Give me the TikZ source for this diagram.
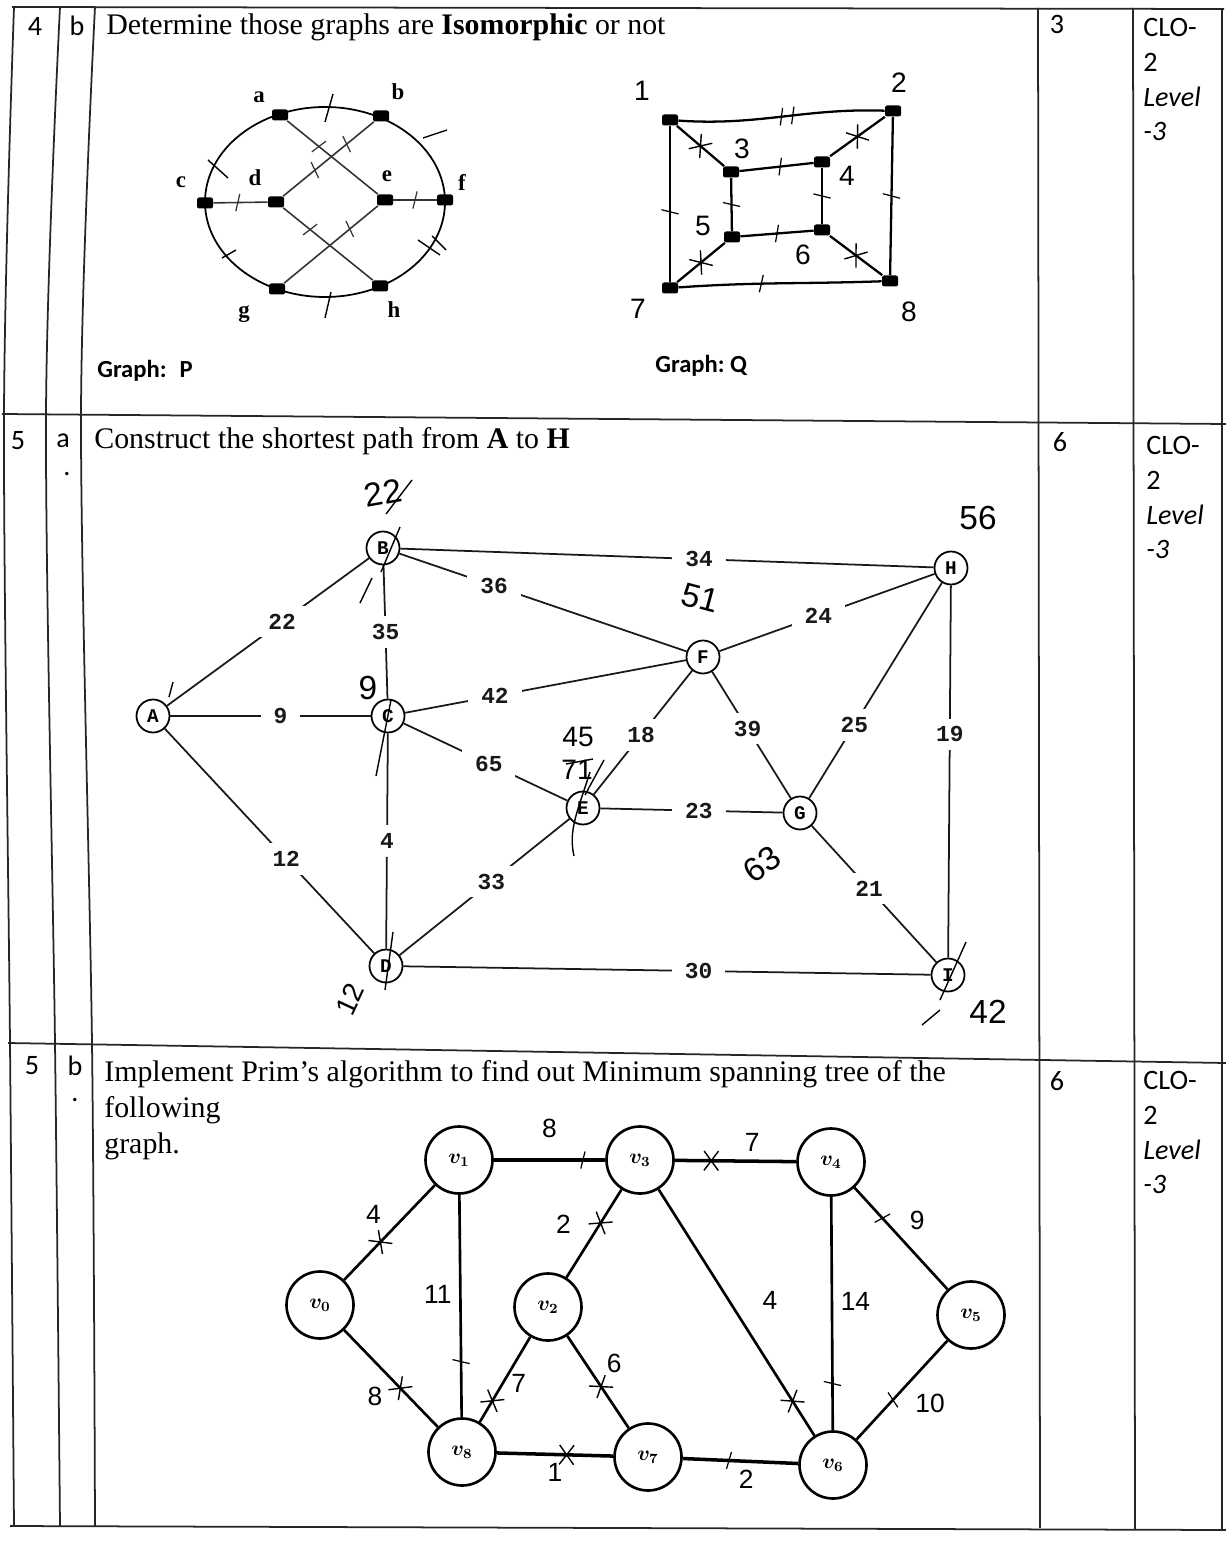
\documentclass[tikz,border=0pt]{standalone}
\usepackage{fontspec}
\setmainfont{Liberation Serif}
\newfontfamily\clb{Carlito}
\newfontfamily\crr{Liberation Mono}
\newfontfamily\hlv{Liberation Sans}
\usetikzlibrary{positioning,shapes.misc}
\begin{document}
\begin{tikzpicture}[x=0.2mm, y=-0.2mm,
    rl/.style={line width=1pt, black!85},
    tx/.style={anchor=base west, inner sep=0, font=\fontsize{17}{21}\selectfont},
    cx/.style={anchor=north west, inner sep=0, align=left, font=\clb\fontsize{16}{19.8}\selectfont},
    nx/.style={inner sep=0, font=\clb\fontsize{16}{19}\selectfont},
    dt/.style={rectangle, rounded corners=1.2pt, fill=black, minimum width=3.2mm, minimum height=2.2mm, inner sep=0},
    pl/.style={inner sep=0, font=\bfseries\fontsize{13}{13}\selectfont},
    ql/.style={inner sep=0, font=\hlv\fontsize{16}{16}\selectfont},
    ge/.style={line width=0.9pt, black!80},
    qe/.style={line width=1.3pt},
    cn/.style={circle, draw, line width=1pt, minimum size=6.6mm, inner sep=0, font=\crr\bfseries\fontsize{11}{11}\selectfont},
    ce/.style={line width=1pt, black!90},
    wl/.style={fill=white, inner xsep=2.6mm, inner ysep=1.6mm, font=\crr\bfseries\fontsize{13}{13}\selectfont},
    vc/.style={circle, draw, line width=1.5pt, minimum size=13.4mm, inner sep=0, font=\boldmath\fontsize{12}{12}\selectfont},
    ve/.style={line width=1.5pt},
    el/.style={inner sep=1.5mm, font=\hlv\fontsize{15}{15}\selectfont},
    hw/.style={inner sep=0, font=\hlv\fontsize{19}{19}\selectfont},
    pen/.style={line width=0.8pt},
    tk/.style={strike out, draw, sloped, minimum width=0.6mm, minimum height=3.2mm, inner sep=0, line width=0.7pt},
    xk/.style={cross out, draw, sloped, minimum width=2.6mm, minimum height=3.6mm, inner sep=0, line width=0.8pt}]
  \useasboundingbox (0,0) rectangle (1226,1544);

  % table
  \draw[rl] (12,7) -- (1224,9);
  \draw[rl] (2,414) -- (1226,424);
  \draw[rl] (8,1043) -- (1226,1063);
  \draw[rl] (10,1526) -- (1226,1530);
  \draw[rl] plot[smooth] coordinates {(14,7) (4,414) (10,1043) (14,1526)};
  \draw[rl] plot[smooth] coordinates {(60,7) (46,414) (55,1043) (60,1526)};
  \draw[rl] plot[smooth] coordinates {(95,7) (81,414) (92,1043) (95,1526)};
  \draw[rl] (1038,8) -- (1040,1528);
  \draw[rl] (1133,8) -- (1135,1529);
  \draw[rl] (1222,9) -- (1222,1530);

  \node[nx] (r4) at (35,26) {4};
  \node[nx] (rb) at (77,26) {b};
  \node[tx] (q4) at (106,35) {Determine those graphs are \textbf{Isomorphic} or not};
  \node[nx] (m3) at (1057,24) {3};
  \node[cx] (c1) at (1143,18) {CLO-\\2\\\textit{Level}\\\textit{-3}};

  \node[nx] (r5a) at (18,441) {5};
  \node[nx] (ra) at (63,441) {a};
  \node[nx] (rda) at (67,474) {.};
  \node[tx] (q5a) at (94,449) {Construct the shortest path from \textbf{A} to \textbf{H}};
  \node[nx] (m6a) at (1060,442) {6};
  \node[cx] (c2) at (1146,436) {CLO-\\2\\\textit{Level}\\\textit{-3}};

  \node[nx] (r5b) at (32,1066) {5};
  \node[nx] (rbb) at (75,1066) {b};
  \node[nx] (rdb) at (75,1100) {.};
  \node[anchor=north west, inner sep=0, align=left, font=\fontsize{17}{20.5}\selectfont] (q5b) at (104,1060)
    {Implement Prim’s algorithm to find out Minimum spanning tree of the\\following\\graph.};
  \node[nx] (m6b) at (1057,1081) {6};
  \node[cx] (c3) at (1143,1071) {CLO-\\2\\\textit{Level}\\\textit{-3}};

  % graph P
  \coordinate (ctr) at (325,202);
  \draw[line width=1pt] (ctr) ellipse [x radius=120, y radius=95];
  \node[dt] (a) at (280,115) {};
  \node[dt] (b) at (381,116) {};
  \node[dt] (c) at (205,203) {};
  \node[dt] (d) at (276,202) {};
  \node[dt] (e) at (385,200) {};
  \node[dt] (f) at (445,200) {};
  \node[dt] (g) at (277,289) {};
  \node[dt] (h) at (380,286) {};
  \draw[ge] (a) -- node[tk,pos=.35] (k1) {} (e);
  \draw[ge] (b) -- node[tk,pos=.3] (k2) {} node[tk,pos=.65] (k3) {} (d);
  \draw[ge] (d) -- node[tk,pos=.3] (k4) {} (h);
  \draw[ge] (e) -- node[tk,pos=.3] (k5) {} (g);
  \draw[ge] (c) -- node[tk,pos=.45] (k6) {} (d);
  \draw[ge] (e) -- node[tk,pos=.5] (k7) {} (f);
  \draw[pen] (333,94) -- (325,122);
  \draw[pen] (208,160) -- (228,178);
  \draw[pen] (423,138) -- (447,130);
  \draw[pen] (418,240) -- (440,255) (432,236) -- (446,250);
  \draw[pen] (331,292) -- (325,318);
  \draw[pen] (222,258) -- (236,250);
  \node[pl] (pa) at (259,97) {a};
  \node[pl] (pb) at (398,92) {b};
  \node[pl] (pc) at (181,182) {c};
  \node[pl] (pd) at (255,178) {d};
  \node[pl] (pe) at (387,176) {e};
  \node[pl] (pf) at (462,182) {f};
  \node[pl] (pg) at (244,314) {g};
  \node[pl] (ph) at (394,310) {h};
  \node[anchor=west, inner sep=0, font=\clb\bfseries\fontsize{14}{14}\selectfont] (gp) at (97,371) {Graph:~ P};

  % graph Q
  \node[dt] (q1) at (670,120) {};
  \node[dt] (q2) at (893,111) {};
  \node[dt] (q3) at (731,172) {};
  \node[dt] (q4) at (822,162) {};
  \node[dt] (q5) at (732,237) {};
  \node[dt] (q6) at (822,230) {};
  \node[dt] (q7) at (670,288) {};
  \node[dt] (q8) at (890,281) {};
  \draw[qe] (q1) to[out=-4,in=178] node[tk,pos=.5] (k8) {} node[tk,pos=.56] (k9) {} (q2);
  \draw[qe] (q1) -- node[tk,pos=.55] (k10) {} (q7);
  \draw[qe] (q2) -- node[tk,pos=.5] (k11) {} (q8);
  \draw[qe] (q7) to[out=4,in=182] node[tk,pos=.4] (k12) {} (q8);
  \draw[qe] (q1) -- node[xk,pos=.5] (k13) {} (q3);
  \draw[qe] (q2) -- node[xk,pos=.5] (k14) {} (q4);
  \draw[qe] (q3) -- node[tk,pos=.55] (k15) {} (q4);
  \draw[qe] (q3) -- node[tk,pos=.5] (k16) {} (q5);
  \draw[qe] (q4) -- node[tk,pos=.5] (k17) {} (q6);
  \draw[qe] (q5) -- node[tk,pos=.5] (k18) {} (q6);
  \draw[qe] (q5) -- node[xk,pos=.5] (k19) {} (q7);
  \draw[qe] (q6) -- node[xk,pos=.5] (k20) {} (q8);
  \node[ql] (l1) at (642,91) {1};
  \node[ql] (l2) at (899,83) {2};
  \node[ql] (l3) at (742,149) {3};
  \node[ql] (l4) at (847,176) {4};
  \node[ql] (l5) at (703,226) {5};
  \node[ql] (l6) at (803,255) {6};
  \node[ql] (l7) at (638,309) {7};
  \node[ql] (l8) at (909,312) {8};
  \node[anchor=west, inner sep=0, font=\clb\bfseries\fontsize{14}{14}\selectfont] (gq) at (655,366) {Graph:~Q};

  % shortest path graph
  \node[cn] (A) at (153,716) {A};
  \node[cn] (B) at (383,548) {B};
  \node[cn] (C) at (388,716) {C};
  \node[cn] (D) at (386,966) {D};
  \node[cn] (E) at (583,808) {E};
  \node[cn] (F) at (703,657) {F};
  \node[cn] (G) at (800,813) {G};
  \node[cn] (H) at (951,568) {H};
  \node[cn] (I) at (948,975) {I};
  \draw[ce] (B) -- node[wl,pos=.56] (w34) {34} (H);
  \draw[ce] (B) -- node[wl,pos=.33] (w36) {36} (F);
  \draw[ce] (A) -- node[wl,pos=.57] (w22) {22} (B);
  \draw[ce] (B) -- node[wl,pos=.5] (w35) {35} (C);
  \draw[ce] (F) -- node[wl,pos=.46] (w24) {24} (H);
  \draw[ce] (C) -- node[wl,pos=.32] (w42) {42} (F);
  \draw[ce] (A) -- node[wl,pos=.55] (w9) {9} (C);
  \draw[ce] (E) -- node[wl,pos=.48] (w18) {18} (F);
  \draw[ce] (F) -- node[wl,pos=.45] (w39) {39} (G);
  \draw[ce] (G) -- node[wl,pos=.34] (w25) {25} (H);
  \draw[ce] (H) -- node[wl,pos=.4] (w19) {19} (I);
  \draw[ce] (C) -- node[wl,pos=.52] (w65) {65} (E);
  \draw[ce] (E) -- node[wl,pos=.54] (w23) {23} (G);
  \draw[ce] (C) -- node[wl,pos=.5] (w4) {4} (D);
  \draw[ce] (A) -- node[wl,pos=.58] (w12) {12} (D);
  \draw[ce] (D) -- node[wl,pos=.54] (w33) {33} (E);
  \draw[ce] (G) -- node[wl,pos=.46] (w21) {21} (I);
  \draw[ce] (D) -- node[wl,pos=.56] (w30) {30} (I);
  \node[hw, rotate=10] (h22) at (383,493) {22};
  \draw[pen] (386,514) -- (412,480);
  \draw[pen] (400,527) -- (381,572) (372,578) -- (360,603);
  \node[hw] (h56) at (978,518) {56};
  \node[hw, rotate=-15] (h51) at (700,598) {51};
  \node[hw] (h9) at (368,688) {9};
  \draw[pen] (391,700) -- (376,776);
  \node[hw, font=\hlv\fontsize{16}{16}\selectfont] (h45) at (578,737) {45};
  \node[hw, font=\hlv\fontsize{16}{16}\selectfont] (h71) at (577,770) {71};
  \draw[pen] (566,764) -- (593,759) (604,760) -- (585,795) (590,772) .. controls (578,810) and (568,830) .. (574,856);
  \node[hw, rotate=35] (h63) at (762,864) {63};
  \node[hw, rotate=65, font=\hlv\fontsize{16}{16}\selectfont] (h12) at (350,999) {12};
  \draw[pen] (393,932) -- (385,990);
  \node[hw] (h42) at (988,1012) {42};
  \draw[pen] (966,942) -- (940,1000) (922,1025) -- (940,1010);
  \draw[pen] (169,697) -- (173,682);

  % Prim graph
  \node[vc] (v0) at (320,1305) {$v_0$};
  \node[vc] (v1) at (459,1160) {$v_1$};
  \node[vc] (v2) at (548,1307) {$v_2$};
  \node[vc] (v3) at (640,1160) {$v_3$};
  \node[vc] (v4) at (831,1162) {$v_4$};
  \node[vc] (v5) at (971,1315) {$v_5$};
  \node[vc] (v6) at (833,1465) {$v_6$};
  \node[vc] (v7) at (648,1457) {$v_7$};
  \node[vc] (v8) at (462,1452) {$v_8$};
  \draw[ve, line width=2pt] (v1) -- node[el,above=2.5mm] (e13) {8} node[tk,pos=.8] (k21) {} (v3);
  \draw[ve, line width=2pt] (v3) -- node[el,above right,pos=.5] (e34) {7} node[xk,pos=.3] (k22) {} (v4);
  \draw[ve] (v0) -- node[el,above left] (e01) {4} node[xk,pos=.4] (k23) {} (v1);
  \draw[ve] (v1) -- node[el,left,pos=.45] (e18) {11} node[tk,pos=.75] (k24) {} (v8);
  \draw[ve] (v2) -- node[el,left=4mm,pos=.6] (e23) {2} node[xk,pos=.62] (k25) {} (v3);
  \draw[ve] (v3) -- node[el,right=5mm,pos=.45] (e36) {4} node[xk,pos=.86] (k26) {} (v6);
  \draw[ve] (v4) -- node[el,right,pos=.45] (e46) {14} node[tk,pos=.8] (k27) {} (v6);
  \draw[ve] (v4) -- node[el,above right] (e45) {9} node[tk,pos=.3] (k28) {} (v5);
  \draw[ve] (v5) -- node[el,below right,pos=.45] (e56) {10} node[tk,pos=.6] (k29) {} (v6);
  \draw[ve] (v0) -- node[el,below left,pos=.5] (e08) {8} node[xk,pos=.6] (k30) {} (v8);
  \draw[ve] (v2) -- node[el,right,pos=.55] (e28) {7} node[xk,pos=.75] (k31) {} (v8);
  \draw[ve] (v2) -- node[el,above right,pos=.5] (e27) {6} node[xk,pos=.55] (k32) {} (v7);
  \draw[ve, line width=2pt] (v8) -- node[el,below,pos=.5] (e87) {1} node[xk,pos=.6] (k33) {} (v7);
  \draw[ve, line width=2pt] (v7) -- node[el,below,pos=.55] (e76) {2} node[tk,pos=.4] (k34) {} (v6);
\end{tikzpicture}
\end{document}
